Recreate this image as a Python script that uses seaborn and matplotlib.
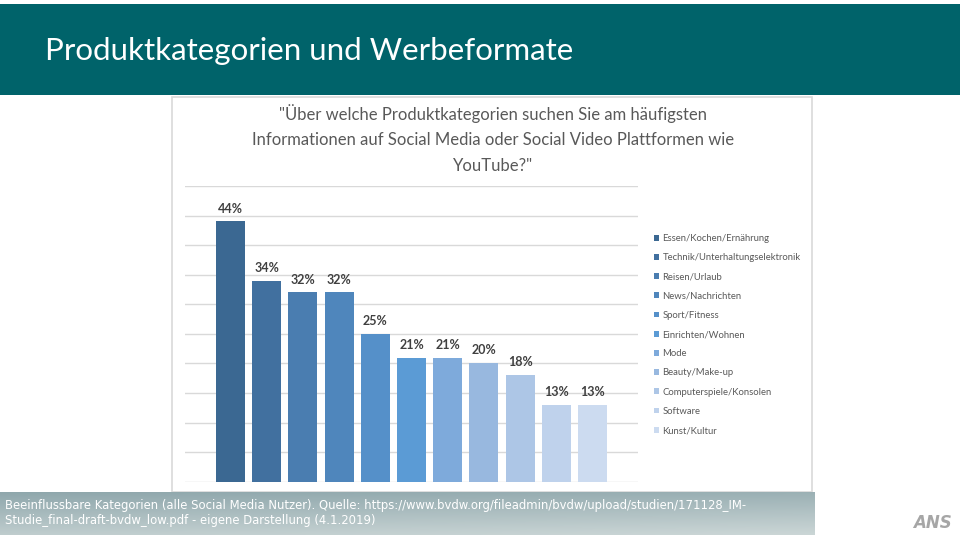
import matplotlib
matplotlib.use('Agg')
import matplotlib.pyplot as plt
import seaborn as sns
import numpy as np
import pandas as pd
from matplotlib.patches import Rectangle
from matplotlib.colors import LinearSegmentedColormap

# Daten
kategorien = ['Essen/Kochen/Ernährung', 'Technik/Unterhaltungselektronik', 'Reisen/Urlaub',
              'News/Nachrichten', 'Sport/Fitness', 'Einrichten/Wohnen', 'Mode',
              'Beauty/Make-up', 'Computerspiele/Konsolen', 'Software', 'Kunst/Kultur']
anteile = [44, 34, 32, 32, 25, 21, 21, 20, 18, 13, 13]
farben = ['#3b6892', '#41709f', '#4a7db0', '#4f86bc', '#5590c9', '#5b9bd5',
          '#7eaadb', '#98b8df', '#adc6e6', '#bfd2ec', '#ccdbf0']

titel = 'Produktkategorien und Werbeformate'
frage = '"Über welche Produktkategorien suchen Sie am häufigsten\nInformationen auf Social Media oder Social Video Plattformen wie\nYouTube?"'
quelle = ('Beeinflussbare Kategorien (alle Social Media Nutzer). Quelle: https://www.bvdw.org/fileadmin/bvdw/upload/studien/171128_IM-\n'
          'Studie_final-draft-bvdw_low.pdf - eigene Darstellung (4.1.2019)')

df = pd.DataFrame({'Kategorie': kategorien, 'Anteil': anteile})

W, H = 960, 540
fig = plt.figure(figsize=(9.6, 5.4), dpi=100)
fig.patch.set_facecolor('white')

def fx(x):
    return x / W

def fy(y):
    return 1 - y / H

# Kopfbalken
fig.patches.append(Rectangle((0, fy(95)), 1, fy(4) - fy(95), transform=fig.transFigure,
                             facecolor='#00636a', edgecolor='none', zorder=-2))
fig.text(fx(45), fy(51), titel, color='white', fontsize=22.5, family='Lato',
         va='center', ha='left')

# Rahmen der Grafik
fig.patches.append(Rectangle((fx(172), fy(492)), fx(812 - 172), fy(97) - fy(492),
                             transform=fig.transFigure, facecolor='white',
                             edgecolor='#d9d9d9', linewidth=1.2, zorder=-2))
fig.text(fx(493), fy(139), frage, color='#595959', fontsize=12, family='Lato',
         ha='center', va='center', linespacing=1.75)

# Diagramm
ax = fig.add_axes([fx(185), fy(481.7), fx(638 - 185), fy(186) - fy(481.7)])
ax.set_zorder(1)
sns.barplot(data=df, x='Kategorie', y='Anteil', hue='Kategorie', palette=farben,
            dodge=False, width=0.8, legend=True, ax=ax, saturation=1)
ax.set_xlim(-1.26, 10.26 + 1)
ax.set_ylim(0, 50)
ax.set_yticks(np.arange(0, 51, 5))
ax.yaxis.grid(True, color='#d9d9d9', linewidth=1)
ax.set_axisbelow(True)
ax.patch.set_alpha(0)
for s in ax.spines.values():
    s.set_visible(False)
ax.tick_params(left=False, bottom=False, labelleft=False, labelbottom=False)
ax.set_xlabel('')
ax.set_ylabel('')

for cont, wert in zip(ax.containers, anteile):
    ax.bar_label(cont, labels=[f'{wert}%'], padding=5, color='#404040',
                 fontsize=9, fontweight='bold', family='Lato')

handles, labels = ax.get_legend_handles_labels()
ax.legend(handles, labels, loc='upper left', bbox_to_anchor=(fx(654), fy(234)),
          bbox_transform=fig.transFigure, frameon=False,
          handlelength=0.55, handleheight=0.55, handletextpad=0.35,
          labelspacing=1.08, borderaxespad=0, borderpad=0,
          labelcolor='#595959', prop={'family': 'Lato', 'size': 6.8})

# Fußzeile mit Verlauf
fax = fig.add_axes([0, fy(535), fx(815), fy(492) - fy(535)])
cmap = LinearSegmentedColormap.from_list('fuss', ['#8fa7ac', '#cbd6d6'])
grad = np.linspace(0, 1, 64)[:, None] * 0.8 + np.linspace(0, 0.2, 256)[None, :]
fax.imshow(grad, aspect='auto', cmap=cmap, vmin=0, vmax=1, extent=(0, 1, 1, 0))
fax.set_axis_off()
fig.text(fx(5), fy(513), quelle, color='white', fontsize=8.4,
         family=['Liberation Sans Narrow', 'DejaVu Sans'], ha='left', va='center',
         linespacing=1.25)

# Logo
fig.text(fx(932), fy(523), 'ANS', color='#a6a6a6', fontsize=12, fontweight='bold',
         style='italic', family='DejaVu Sans', ha='center', va='center')

fig.savefig('out.png', dpi=100)
